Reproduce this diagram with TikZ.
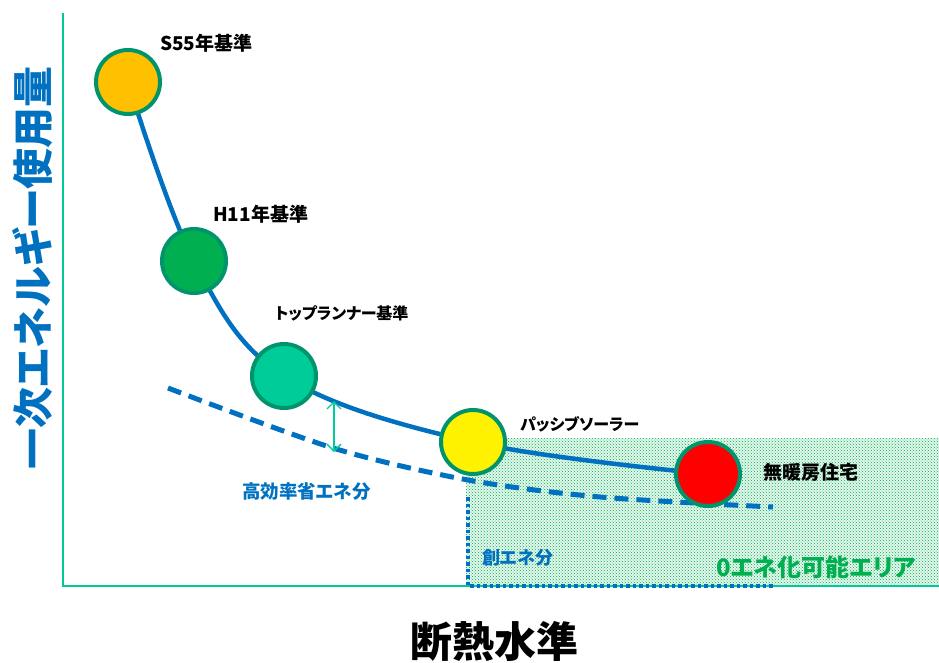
\documentclass[tikz,border=0pt]{standalone}
\usepackage{fontspec}
\setmainfont{Noto Sans CJK JP}[RawFeature=+palt]
\usetikzlibrary{arrows.meta,patterns}
\definecolor{lineblue}{RGB}{0,112,192}
\definecolor{ringgreen}{RGB}{0,148,108}
\definecolor{axisgreen}{RGB}{0,200,150}
\definecolor{zegreen}{RGB}{0,176,80}
\definecolor{sgold}{RGB}{255,192,0}
\definecolor{hgreen}{RGB}{0,176,80}
\definecolor{tgreen}{RGB}{0,204,153}
\begin{document}
\begin{tikzpicture}[x=1pt,y=-1pt,
  ball/.style={circle,draw=ringgreen,line width=4pt,minimum size=64pt,inner sep=0pt},
  lab/.style={anchor=west,inner sep=0pt,font=\bfseries\fontsize{18}{18}\selectfont},
  bluelab/.style={lab,text=lineblue}]
\useasboundingbox (0,0) rectangle (939,662);

\fill[zegreen!10] (466,438) rectangle (939,586);
\fill[pattern=crosshatch dots,pattern color=zegreen] (466,438) rectangle (939,586);
  \coordinate (o) at (63,586);
  \coordinate (ytop) at (63,13);
  \coordinate (xend) at (939,586);
  \draw[axisgreen,line width=2pt] (ytop) -- (o) -- (xend);
  \coordinate (p1) at (468,497);
  \coordinate (p2) at (468,586);
  \coordinate (p3) at (773,586);
  \draw[lineblue,line width=3.5pt,dash pattern=on 3.5pt off 3pt] (p1) -- (p2) -- (p3);

  \coordinate (d1) at (168,388);
  \coordinate (d2) at (333,448);
  \coordinate (d3) at (468,480);
  \coordinate (d4) at (600,497);
  \coordinate (d5) at (773,507);
  \draw[lineblue,line width=5pt,dash pattern=on 14pt off 8pt]
    plot[smooth] coordinates {(d1) (d2) (d3) (d4) (d5)};

  \coordinate (c1) at (128,82);
  \coordinate (c2) at (194,261);
  \coordinate (c3) at (284,376);
  \coordinate (c4) at (473,442);
  \coordinate (c5) at (708,474);
  \draw[lineblue,line width=4.5pt]
    plot[smooth,tension=0.6] coordinates {(c1) (c2) (c3) (c4) (c5)};

  \coordinate (a1) at (334,401);
  \coordinate (a2) at (334,452);
  \draw[tgreen,line width=1.3pt,{Straight Barb[length=7pt,width=14pt]}-{Straight Barb[length=7pt,width=14pt]}] (a1) -- (a2);

  \node[ball,fill=sgold] (n1) at (c1) {};
  \node[ball,fill=hgreen] (n2) at (c2) {};
  \node[ball,fill=tgreen] (n3) at (c3) {};
  \node[ball,fill=yellow] (n4) at (c4) {};
  \node[ball,fill=red] (n5) at (c5) {};

  \node[lab,font=\bfseries\fontsize{19}{19}\selectfont] (l1) at (160,43) {S55年基準};
  \node[lab,font=\bfseries\fontsize{19}{19}\selectfont] (l2) at (213,214) {H11年基準};
  \node[lab,font=\bfseries\fontsize{16}{16}\selectfont] (l3) at (275,313) {トップランナー基準};
  \node[lab,font=\bfseries\fontsize{16}{16}\selectfont] (l4) at (520,424) {パッシブソーラー};
  \node[lab,font=\bfseries\fontsize{19}{19}\selectfont] (l5) at (763,472) {無暖房住宅};
  \node[bluelab,font=\bfseries\fontsize{18.5}{18.5}\selectfont] (l6) at (242,492) {高効率省エネ分};
  \node[bluelab] (l7) at (482,558) {創エネ分};
  \node[lab,text=zegreen,font=\bfseries\fontsize{24}{24}\selectfont] (l8) at (716,567) {0エネ化可能エリア};
  \node[inner sep=0pt,font=\bfseries\fontsize{42}{42}\selectfont] (xl) at (494,641) {断熱水準};
  \node[inner sep=0pt,rotate=90,text=lineblue,font=\bfseries\fontsize{41}{41}\selectfont] (yl) at (33,268) {一次エネルギー使用量};
 \end{tikzpicture}
\end{document}
